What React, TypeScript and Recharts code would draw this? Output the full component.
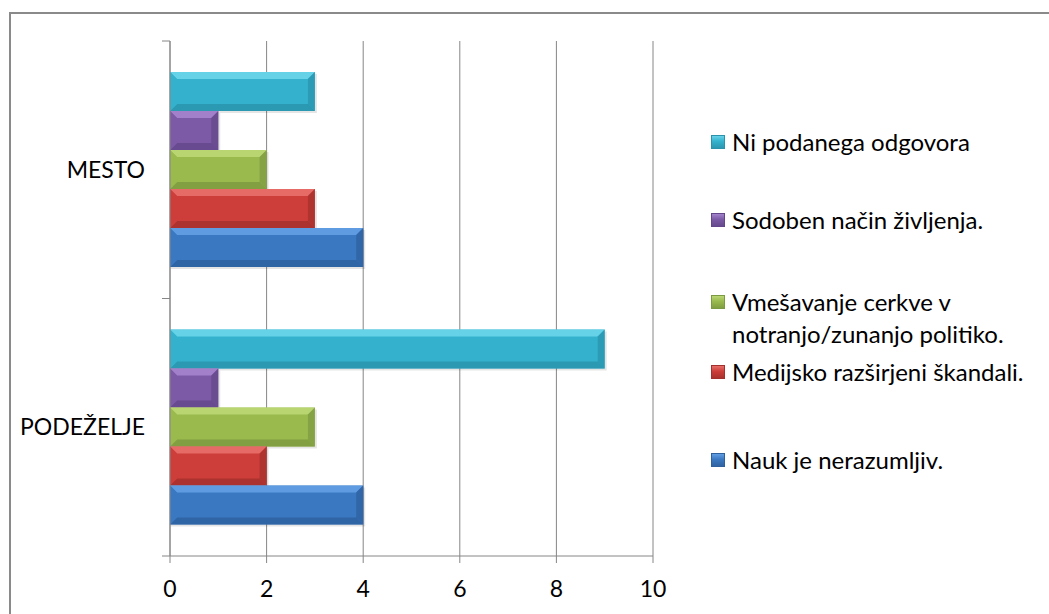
import { Bar, BarChart, CartesianGrid, Legend, XAxis, YAxis } from 'recharts'

const regions = ['MESTO', 'PODEŽELJE']
const noAnswer = [3, 9]
const modernLife = [1, 1]
const churchPolitics = [2, 3]
const mediaScandals = [3, 2]
const doctrine = [4, 4]
const xTicks = [0, 2, 4, 6, 8, 10]

const series = [
  { key: 'noAnswer', name: 'Ni podanega odgovora', values: noAnswer, base: '#34b2cd', light: '#72d9ef', dark: '#2a92ab' },
  { key: 'modernLife', name: 'Sodoben način življenja.', values: modernLife, base: '#7c5aa6', light: '#ab8ad3', dark: '#624689' },
  { key: 'churchPolitics', name: 'Vmešavanje cerkve v notranjo/zunanjo politiko.', values: churchPolitics, base: '#9aba4e', light: '#c0dc7c', dark: '#7c9a40' },
  { key: 'mediaScandals', name: 'Medijsko razširjeni škandali.', values: mediaScandals, base: '#cd3e3a', light: '#ec7670', dark: '#a3302c' },
  { key: 'doctrine', name: 'Nauk je nerazumljiv.', values: doctrine, base: '#3b78c2', light: '#68a4e8', dark: '#2e609e' },
]

const rows = regions.map((region, i) => {
  const row: Record<string, string | number> = { region }
  series.forEach((s) => {
    row[s.key] = s.values[i]
  })
  return row
})

const W = 1049
const H = 614
const M = { top: 41, right: 396, bottom: 8, left: 0 }
const X_AXIS_H = 50
const Y_AXIS_W = 170
const BAND = (H - M.top - M.bottom - X_AXIS_H) / regions.length
const AXIS = '#868686'
const FONT = 'Lato, "Open Sans", sans-serif'

// top of each legend entry (Excel spreads them unevenly)
const legendTops = [126, 204, 286, 356, 444]

function BevelBar(props: any) {
  const { x, y, width, height, base, light, dark } = props
  if (!width || width <= 0) return null
  const b = Math.min(7, width / 2, height / 2)
  const r = x + width
  const btm = y + height
  return (
    <g>
      <rect x={x + 1} y={y + 2} width={width + 1} height={height} fill="#000" opacity={0.1} />
      <rect x={x} y={y} width={width} height={height} fill={base} />
      <polygon points={`${x},${y} ${r},${y} ${r - b},${y + b} ${x + b},${y + b}`} fill={light} opacity={0.8} />
      <polygon points={`${x},${btm} ${r},${btm} ${r - b},${btm - b} ${x + b},${btm - b}`} fill={dark} opacity={0.8} />
      <polygon points={`${r},${y} ${r},${btm} ${r - b},${btm - b} ${r - b},${y + b}`} fill={dark} opacity={0.7} />
      <polygon points={`${x},${y} ${x},${btm} ${x + b},${btm - b} ${x + b},${y + b}`} fill={base} />
    </g>
  )
}

function RegionTick(props: any) {
  const { x, y, payload } = props
  return (
    <g>
      <line x1={x - 8} x2={x} y1={y - BAND / 2} y2={y - BAND / 2} stroke={AXIS} />
      <line x1={x - 8} x2={x} y1={y + BAND / 2} y2={y + BAND / 2} stroke={AXIS} />
      <text x={x - 25} y={y} dy="0.35em" textAnchor="end" fill="#000" fontSize={23} fontFamily={FONT}>
        {payload.value}
      </text>
    </g>
  )
}

function SideLegend() {
  return (
    <div style={{ position: 'relative', width: 340, height: 400, fontFamily: FONT, fontSize: 24, color: '#000' }}>
      {series.map((s, i) => (
        <div key={s.key} style={{ position: 'absolute', top: legendTops[i] - 100, left: 0, display: 'flex', alignItems: 'flex-start' }}>
          <span
            style={{
              display: 'inline-block',
              flex: 'none',
              width: 14,
              height: 14,
              marginTop: 9,
              marginRight: 7,
              background: `linear-gradient(${s.light}, ${s.base} 45%, ${s.dark})`,
              boxShadow: `inset 0 0 0 1px ${s.dark}`,
            }}
          />
          <span style={{ width: 310, lineHeight: '32px' }}>{s.name}</span>
        </div>
      ))}
    </div>
  )
}

export default function App() {
  return (
    <div style={{ position: 'fixed', left: 0, top: 0, width: W, height: H, background: '#fff', overflow: 'hidden' }}>
      <div
        style={{
          position: 'absolute',
          left: 9,
          top: 12,
          width: W,
          height: H,
          borderTop: '2px solid #8a8a8a',
          borderLeft: '2px solid #8a8a8a',
        }}
      />
      <div style={{ position: 'absolute', left: 0, top: 0 }}>
        <BarChart width={W} height={H} data={rows} layout="vertical" margin={M} barCategoryGap={31} barGap={0}>
          <CartesianGrid horizontal={false} stroke={AXIS} />
          <XAxis
            type="number"
            domain={[0, 10]}
            ticks={xTicks}
            height={X_AXIS_H}
            tickSize={7}
            tickMargin={18}
            axisLine={{ stroke: AXIS }}
            tickLine={{ stroke: AXIS }}
            tick={{ fill: '#000', fontSize: 23, fontFamily: FONT }}
          />
          <YAxis
            type="category"
            dataKey="region"
            width={Y_AXIS_W}
            tickSize={0}
            tickMargin={0}
            tickLine={false}
            axisLine={{ stroke: AXIS }}
            tick={<RegionTick />}
          />
          <Legend
            layout="vertical"
            align="center"
            verticalAlign="middle"
            wrapperStyle={{ left: 711, top: 100, width: 340 }}
            content={() => <SideLegend />}
          />
          {series.map((s) => (
            <Bar
              key={s.key}
              dataKey={s.key}
              name={s.name}
              fill={s.base}
              isAnimationActive={false}
              shape={(p: any) => <BevelBar {...p} base={s.base} light={s.light} dark={s.dark} />}
            />
          ))}
        </BarChart>
      </div>
    </div>
  )
}
